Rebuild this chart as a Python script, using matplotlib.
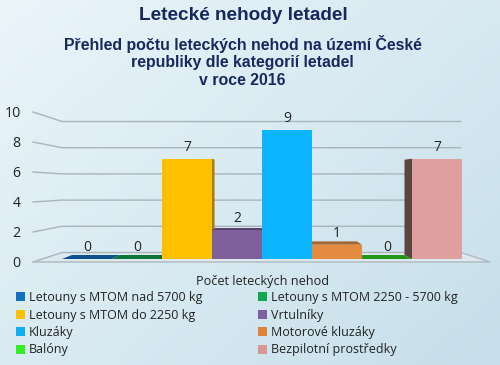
import numpy as np
import matplotlib
matplotlib.use("Agg")
import matplotlib.pyplot as plt
from matplotlib.colors import LinearSegmentedColormap, to_rgb
from matplotlib.patches import Polygon, Patch

categories = ["Letouny s MTOM nad 5700 kg", "Letouny s MTOM 2250 - 5700 kg",
              "Letouny s MTOM do 2250 kg", "Vrtulníky", "Kluzáky",
              "Motorové kluzáky", "Balóny", "Bezpilotní prostředky"]
values = [0, 0, 7, 2, 9, 1, 0, 7]
colors = ["#0F6FC6", "#0FA34F", "#FFC000", "#7F5F9A", "#0DB4FF", "#E58B3F", "#2FD020", "#E0A0A0"]
legend_colors = ["#1170C0", "#0FA851", "#FFC000", "#7D5FA0", "#10ADEF", "#E08238", "#33EE22", "#D99694"]
y_ticks = [0, 2, 4, 6, 8, 10]
title = "Letecké nehody letadel"
subtitle = "Přehled počtu leteckých nehod na území České\nrepubliky dle kategorií letadel\nv roce 2016"
series_name = "Počet leteckých nehod"

W, H = 500, 365
PX_UNIT = 14.33
BASE_PX = 259
X0_PX = 62
BAR_PX = 50


def px_x(x):
    return (x - X0_PX) / BAR_PX


def px_y(y):
    return (BASE_PX - y) / PX_UNIT


fig = plt.figure(figsize=(5, 3.65), dpi=100)
bg = fig.add_axes([0, 0, 1, 1], zorder=0)
bg.axis("off")
gx, gy = np.meshgrid(np.linspace(0, 1, 100), np.linspace(0, 1, 73))
cmap = LinearSegmentedColormap.from_list("bg", ["#EAF5FA", "#D9EAF2", "#C6DFEA"])
bg.imshow(0.55 * gx + 0.45 * gy, cmap=cmap, aspect="auto", vmin=0, vmax=1)

ax = fig.add_axes([0, 0, 1, 1], zorder=1)
ax.set_xlim(px_x(0), px_x(W))
ax.set_ylim(px_y(H), px_y(0))
ax.axis("off")
ax.patch.set_alpha(0)

# Wall and floor
wl_f, wr_f = px_x(33), px_x(490)
wl_b, wr_b = px_x(62), px_x(461)


def wall_front(v):
    return px_y(262 - 15 * v)


def wall_back(v):
    return px_y(252.5 - 13.1 * v)


ax.add_patch(Polygon([(wl_f, wall_front(0)), (wl_b, wall_back(0)), (wr_b, wall_back(0)), (wr_f, wall_front(0))],
                     closed=True, fc="#DDE9EF", ec="none", zorder=1))
for v in y_ticks:
    ax.plot([wl_f, wl_b, wr_b], [wall_front(v), wall_back(v), wall_back(v)],
            color="#A9B5BA", lw=1.0, zorder=2, solid_joinstyle="miter")
    ax.text(px_x(20.5), wall_front(v) - 0.07, str(v), ha="right", va="center", fontsize=10.2,
            family="Open Sans", color="#222222", zorder=6)
ax.plot([wl_f, wr_f, wr_b], [wall_front(0), wall_front(0), wall_back(0)], color="#B4C0C6", lw=1.2, zorder=2)

# Bars in perspective towards a common vanishing point
VP = (px_x(262), px_y(179))
K = 0.05


def back(x, y):
    return x + (VP[0] - x) * K, y + (VP[1] - y) * K


def shade(c, f):
    return tuple(f * t for t in to_rgb(c))


order = sorted(range(len(values)), key=lambda i: -abs(i + 0.5 - VP[0]))
z = 3.0
for i in order:
    v, c = values[i], colors[i]
    l, r = i, i + 1
    # side facing the vanishing point
    sx = r if r <= VP[0] else l
    if v > 0:
        ax.add_patch(Polygon([(sx, 0), (sx, v), back(sx, v), back(sx, 0)], closed=True,
                             fc=shade(c, 0.65 if r <= VP[0] else 0.42), ec="none", zorder=z))
        z += 0.01
    if v < VP[1]:
        ax.add_patch(Polygon([(l, v), (r, v), back(r, v), back(l, v)], closed=True,
                             fc=shade(c, 0.72), ec="none", zorder=z))
        z += 0.01
    if v > 0:
        ax.bar(l + 0.5, v, width=1.0, color=c, zorder=z, linewidth=0)
        z += 0.01
    ax.annotate(str(v), (l + 0.5, v), xytext=(0, 8.2), textcoords="offset points", ha="center",
                va="center", fontsize=10, family="Open Sans", color="#222222", zorder=6)

fig.text(243 / W, 1 - 15 / H, title, ha="center", va="center", fontsize=13.7,
         family="Liberation Sans", weight="bold", color="#17275F", zorder=5)
fig.text(242.5 / W, 1 - 61.5 / H, subtitle, ha="center", va="center", fontsize=11.45, linespacing=1.17,
         family="Liberation Sans", weight="bold", color="#17275F", zorder=5)
ax.text(px_x(262), px_y(281), series_name, ha="center", va="center", fontsize=9.05,
        family="Open Sans", color="#222222", zorder=6)

handles = [Patch(facecolor=c, edgecolor="none", label=n) for c, n in zip(legend_colors, categories)]
# row-wise reading order in two columns
ord2 = list(range(0, 8, 2)) + list(range(1, 8, 2))
leg = ax.legend([handles[i] for i in ord2], [categories[i] for i in ord2], ncols=2,
                loc="upper left", bbox_to_anchor=(16 / W, 1 - 291 / H), bbox_transform=fig.transFigure,
                frameon=False, borderpad=0, borderaxespad=0,
                prop={"family": "Open Sans", "size": 9.0}, labelcolor="#222222",
                handlelength=0.72, handleheight=0.72, handletextpad=0.3,
                columnspacing=4.45, labelspacing=0.36)
leg.set_zorder(6)

fig.savefig("out.png", dpi=100)
